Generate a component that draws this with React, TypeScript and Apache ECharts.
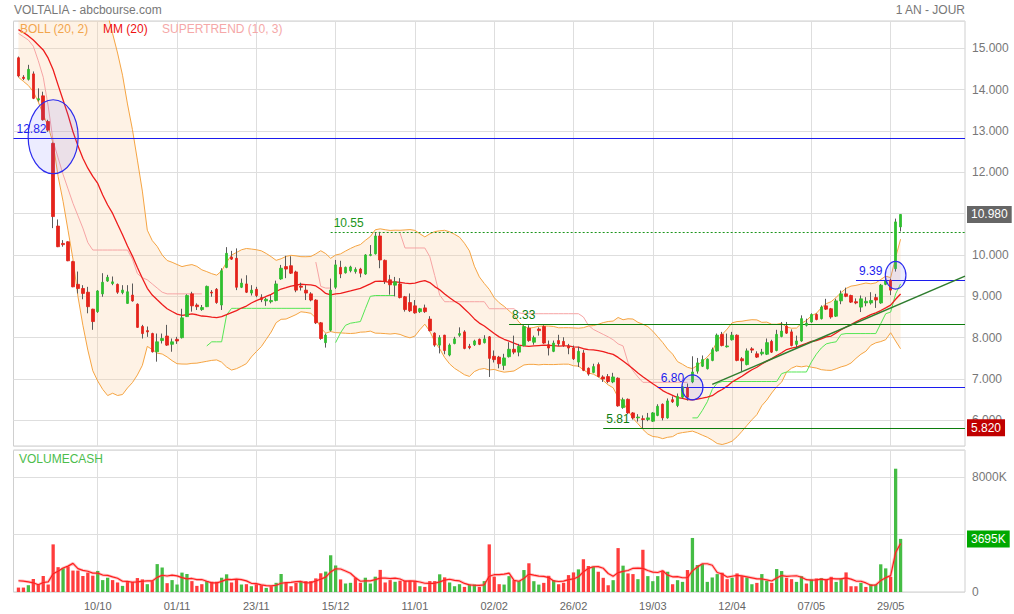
import React, { useEffect, useRef } from "react";
import * as echarts from "echarts";

// ---------- DATA ----------
const opens = [14.77,14.30,14.25,14.38,13.75,13.85,13.23,12.70,10.70,10.28,10.32,9.84,9.29,9.19,9.10,8.69,8.63,9.06,9.37,9.31,9.29,9.09,8.83,9.03,8.81,8.27,8.17,8.10,7.66,7.93,8.04,7.84,7.96,8.00,8.51,9.06,8.79,8.68,8.75,9.10,9.17,8.79,9.70,9.95,9.92,9.22,9.30,9.08,9.17,8.97,8.89,8.87,8.90,9.42,9.72,9.74,9.59,9.25,9.15,9.06,8.91,8.36,7.88,8.18,9.22,9.70,9.57,9.62,9.60,9.66,9.54,9.99,10.03,10.46,9.87,9.40,9.27,9.30,8.99,8.85,8.77,8.63,8.72,8.45,8.11,7.82,8.06,7.58,7.86,8.06,8.14,7.79,7.83,7.96,7.88,8.02,7.55,7.53,7.33,7.54,7.72,7.65,7.81,8.23,7.89,8.21,8.27,7.83,7.67,7.93,7.91,7.80,7.75,7.41,7.63,7.26,7.16,7.35,7.05,7.06,6.93,7.02,6.31,6.51,6.18,6.06,6.04,6.02,5.98,6.12,6.39,6.06,6.50,6.36,6.56,6.79,6.93,7.19,7.31,7.25,7.45,7.68,8.08,7.78,7.95,8.06,7.49,7.35,7.73,7.61,7.61,7.60,7.91,7.69,8.03,8.28,8.14,7.84,7.92,8.30,8.38,8.56,8.46,8.77,8.70,8.52,8.89,9.06,9.02,8.87,8.74,8.84,8.84,8.97,8.84,9.29,9.39,9.67,10.68];
const closes = [14.33,14.27,14.49,13.79,13.78,13.27,13.02,10.93,10.20,10.25,9.86,9.23,9.19,9.07,8.75,8.39,9.13,9.34,9.46,9.35,9.10,9.15,9.11,8.89,8.25,8.10,8.14,7.66,7.90,7.98,7.82,7.90,7.92,8.48,9.02,8.77,8.75,8.73,9.24,9.08,8.85,9.62,10.04,9.90,9.22,9.32,9.10,9.15,9.02,8.92,8.93,8.90,9.30,9.68,9.66,9.56,9.15,9.22,9.08,8.91,8.36,7.98,8.06,9.15,9.76,9.54,9.70,9.71,9.65,9.56,10.00,10.01,10.46,9.88,9.36,9.28,9.35,8.97,8.68,8.65,8.60,8.70,8.63,8.17,7.82,8.00,7.69,7.82,7.97,8.10,7.74,7.76,7.92,7.84,7.97,7.50,7.47,7.37,7.51,7.72,7.65,7.79,8.27,7.93,8.00,8.17,7.87,7.75,7.87,7.85,7.81,7.75,7.49,7.67,7.21,7.12,7.30,7.06,7.00,6.94,7.05,6.35,6.50,6.18,6.06,6.08,6.02,6.06,6.18,6.34,6.06,6.47,6.45,6.58,6.81,6.56,7.17,7.39,7.47,7.48,7.71,8.06,7.81,7.80,8.06,7.45,7.44,7.68,7.70,7.53,7.65,7.88,7.65,8.08,8.16,8.11,7.81,7.92,8.46,8.35,8.56,8.44,8.74,8.69,8.50,8.89,9.06,9.00,8.86,8.84,8.94,8.88,8.90,8.91,9.27,9.37,9.15,10.80,10.98];
const lows = [14.30,14.23,14.22,13.77,13.71,13.25,12.98,10.65,10.19,10.20,9.85,9.22,9.07,8.93,8.59,8.19,8.60,8.99,9.35,9.27,9.06,9.05,8.82,8.87,8.24,7.98,8.02,7.64,7.42,7.86,7.80,7.66,7.85,7.98,8.50,8.63,8.67,8.65,8.74,8.99,8.82,8.67,9.68,9.88,9.15,9.20,9.08,9.02,8.98,8.86,8.77,8.83,8.88,9.40,9.44,9.54,9.10,9.14,8.91,8.88,8.33,7.95,7.76,8.15,9.18,9.44,9.55,9.58,9.55,9.46,9.52,9.97,10.01,9.68,9.30,9.04,9.00,8.95,8.63,8.62,8.58,8.60,8.60,8.15,7.78,7.62,7.60,7.55,7.84,8.02,7.72,7.72,7.80,7.82,7.86,7.05,7.40,7.26,7.22,7.52,7.60,7.55,7.79,7.90,7.83,8.05,7.85,7.57,7.65,7.80,7.78,7.60,7.46,7.29,7.19,7.08,7.14,7.04,6.93,6.90,6.90,6.33,6.28,6.15,6.02,5.97,5.81,5.98,5.96,6.10,6.00,6.04,6.42,6.32,6.52,6.48,6.90,7.13,7.29,7.23,7.43,7.66,7.79,7.76,7.93,7.43,7.19,7.33,7.63,7.51,7.57,7.58,7.63,7.67,8.01,8.09,7.79,7.76,7.90,8.27,8.36,8.42,8.44,8.67,8.46,8.50,8.81,8.98,8.84,8.81,8.62,8.76,8.80,8.72,8.82,9.27,9.03,9.60,10.57];
const highs = [14.80,14.35,14.60,14.44,14.03,13.95,13.27,12.72,10.86,10.36,10.33,9.86,9.60,9.27,9.23,8.70,9.15,9.56,9.52,9.48,9.31,9.27,9.27,9.31,8.83,8.31,8.27,8.12,8.10,8.10,8.31,7.98,8.02,8.70,9.05,9.11,8.83,8.79,9.26,9.15,9.20,9.68,10.19,10.10,10.16,9.43,9.51,9.27,9.23,9.05,8.97,9.03,9.38,9.76,9.98,9.97,9.62,9.33,9.27,9.10,8.93,8.38,8.10,9.43,9.88,9.86,9.72,9.74,9.70,9.69,10.02,10.24,10.53,10.56,9.89,9.52,9.47,9.44,9.01,9.07,8.91,8.72,8.80,8.52,8.13,8.06,8.07,7.86,8.02,8.25,8.18,7.85,7.95,7.98,8.06,8.04,7.69,7.56,7.61,7.89,8.05,7.85,8.30,8.30,8.05,8.25,8.30,7.93,7.93,8.07,8.01,7.85,7.81,7.78,7.70,7.28,7.37,7.40,7.09,7.12,7.15,7.04,6.55,6.53,6.20,6.15,6.12,6.18,6.20,6.39,6.41,6.53,6.58,6.65,6.83,6.89,7.55,7.51,7.57,7.50,7.76,8.10,8.14,8.10,8.14,8.08,7.53,7.74,7.77,7.67,7.73,7.98,7.95,8.19,8.38,8.38,8.20,8.05,8.54,8.46,8.59,8.59,8.78,8.94,8.72,8.94,9.14,9.21,9.04,8.95,9.02,8.98,9.10,9.06,9.30,9.47,9.43,10.88,10.99];
// volume, in thousands
const volumesK = [308,308,473,900,521,1112,521,3314,1728,1657,1775,1491,1491,1112,1349,1136,1467,828,994,828,663,426,757,710,970,876,544,757,1941,1704,615,828,521,1349,1254,757,426,544,757,710,710,994,1231,663,900,521,544,402,544,473,284,402,639,1254,663,402,639,710,757,757,947,1302,1420,2556,1846,876,592,639,994,639,994,592,1065,1539,663,828,710,781,781,757,757,402,355,757,757,1231,1018,663,402,544,355,521,521,355,757,3314,1065,544,517,1105,823,752,1528,1998,752,517,635,1128,823,541,635,1175,1363,1575,2280,1810,1763,1410,987,470,823,3055,1833,1293,1246,893,2938,1105,752,1105,1481,1410,541,823,705,1528,3760,1880,1951,705,1011,1246,1340,893,987,1293,1105,1011,541,635,1246,776,635,1598,1457,987,893,705,1105,588,870,940,964,870,1058,705,940,1363,400,400,635,353,541,517,1927,1645,1058,8578,3695];
// indicator values at the start of the window (their history lies before the first visible day)
const maHead = [15.45,15.38,15.30,15.20,15.08,14.96,14.76,14.48,14.11,13.75,13.39,12.98,12.64,12.34,12.10,11.90,11.73,11.45,11.21];
const lowerHead = [14.30,14.20,14.10,13.95,13.70,13.40,13.10,12.70,11.90,11.30,10.60,9.90,9.00,8.30,7.70,7.20,6.95,6.75,6.60];
const volMaHead = [781,757,710,640];
// supertrend (10, 3): [first day index, values]
const stDownSegments: [number, number[]][] = [
  [0, [15.36,15.28,15.2,15.05,14.7,14.3,13.6,12.75,12.35,11.95,11.6,11.25,10.95,10.65,10.3,10.12,10.12,10.12,10.12,10.12,10.12,10.12,10.12,9.9,9.55,9.45,9.4,9.3,9.2,9.1,9.06,9.06,9.06,9.06,9.06,9.06,9.06,9.06]],
  [60, [9.83,9.24,9.2,9.2]],
  [77, [10.53,10.17,10.17,10.17,10.17,10.17,9.96,9.5,9.03,8.87,8.87,8.87,8.87,8.87,8.87,8.87,8.87,8.87,8.7,8.7,8.7,8.7,8.7,8.7,8.6,8.58,8.58,8.58,8.58,8.58,8.58,8.58,8.58,8.58,8.58,8.58,8.58,8.5,8.3,8.2,8.14,8.08,8.02,7.95,7.85,7.8,7.4,7.2,7.05,6.92,6.92,6.92,6.92,6.92,6.92,6.92,6.92,6.92,6.92]],
];
const stUpSegments: [number, number[]][] = [
  [38, [7.8,7.9,7.9,7.9,8.55,8.71,8.71,8.71,8.71,8.71,8.71,8.71,8.71,8.71,8.71,8.71,8.71,8.71,8.71,8.71,8.71,8.71]],
  [64, [7.88,8.12,8.3,8.35,8.37,8.39,8.7,9.0,9.02,9.02,9.02,9.02,9.02]],
  [136, [6.06,6.06,6.24,6.45,6.75,6.9,6.94,6.94,6.94,6.94,6.94,6.94,6.94,6.94,6.94,6.94,6.94,6.94,7.13,7.17,7.17,7.17,7.17,7.17,7.41,7.6,7.75,7.85,7.88,7.9,8.08,8.1,8.1,8.1,8.1,8.1,8.1,8.1,8.34,8.58,8.62,9.06,9.3]],
];
const tickLabels = ["10/10","01/11","23/11","15/12","11/01","02/02","26/02","19/03","12/04","07/05","29/05"];
const holidays = ["2023-12-25","2023-12-26","2024-01-01","2024-03-29","2024-04-01","2024-05-01"];
const firstCategoryDay = "2023-09-15";
const futureDays = 13;

// drawn levels: start day index (category), price
const levels = [
  { from: 0, value: 12.82, color: "#1c1cee", type: "solid", text: "12.82" },
  { from: 64, value: 10.55, color: "#1a941a", type: [2, 2], text: "10.55" },
  { from: 100, value: 8.33, color: "#0c7c0c", type: "solid", text: "8.33" },
  { from: 119, value: 5.81, color: "#0c7c0c", type: "solid", text: "5.81" },
  { from: 130, value: 6.80, color: "#1c1cee", type: "solid", text: "6.80" },
  { from: 170, value: 9.39, color: "#1c1cee", type: "solid", text: "9.39" },
];
const trendStart = { cat: 141, value: 6.87 };
const trendEnd = { value: 9.49 };
const circles = [
  { cat: 8, value: 12.86, rx: 25, ry: 37 },
  { cat: 137, value: 6.80, rx: 10.5, ry: 12.5 },
  { cat: 178, value: 9.51, rx: 10.3, ry: 13.8 },
];
const lastPrice = 10.98;
const lowTag = 5.82;
const lastVolumeK = 3695;

// ---------- helpers ----------
function buildDates(count: number): string[] {
  const hol = new Set(holidays);
  const out: string[] = [];
  let t = Date.parse(firstCategoryDay + "T00:00:00Z");
  while (out.length < count) {
    const d = new Date(t);
    const wd = d.getUTCDay();
    const iso = d.toISOString().slice(0, 10);
    if (wd !== 0 && wd !== 6 && !hol.has(iso)) {
      out.push(iso.slice(8, 10) + "/" + iso.slice(5, 7) + "/" + iso.slice(0, 4));
    }
    t += 86400000;
  }
  return out;
}

function segmentsToArray(segs: [number, number[]][], n: number): (number | null)[] {
  const arr: (number | null)[] = new Array(n).fill(null);
  segs.forEach(([start, vals]) => vals.forEach((v, k) => { arr[start + k] = v; }));
  return arr;
}

const FONT = "'Liberation Sans', Arial, sans-serif";

export default function App() {
  const ref = useRef<HTMLDivElement>(null);

  useEffect(() => {
    if (!ref.current) return;
    const chart = echarts.init(ref.current, undefined, { renderer: "svg" });

    const N = closes.length;
    const cats = buildDates(1 + N + futureDays);
    const lastCat = cats.length - 1;
    const labelSet = new Set(tickLabels);
    const showTick = (_i: number, v: string) => labelSet.has(String(v).slice(0, 5));
    const pad = (arr: (number | null)[]) => ["-", ...arr.map((v) => (v == null ? "-" : v))];

    // Bollinger (20, 2) and MM 20
    const ma: number[] = [], up: number[] = [], lo: number[] = [];
    for (let i = 0; i < N; i++) {
      if (i < maHead.length) {
        ma.push(maHead[i]); lo.push(lowerHead[i]); up.push(2 * maHead[i] - lowerHead[i]);
      } else {
        const w = closes.slice(i - 19, i + 1);
        const m = w.reduce((a, b) => a + b, 0) / 20;
        const sd = Math.sqrt(w.reduce((a, b) => a + (b - m) * (b - m), 0) / 20);
        ma.push(m); up.push(m + 2 * sd); lo.push(m - 2 * sd);
      }
    }
    const bandWidth = up.map((u, i) => u - lo[i]);

    const volMa: number[] = [];
    for (let i = 0; i < N; i++) {
      if (i < volMaHead.length) volMa.push(volMaHead[i]);
      else volMa.push(volumesK.slice(i - 4, i + 1).reduce((a, b) => a + b, 0) / 5);
    }

    const stDown = segmentsToArray(stDownSegments, N);
    const stUp = segmentsToArray(stUpSegments, N);

    const wickData: any[] = [["-", "-", "-", "-"]];
    const bodyData: any[] = [["-", "-", "-", "-"]];
    for (let i = 0; i < N; i++) {
      wickData.push([opens[i], closes[i], lows[i], highs[i]]);
      bodyData.push([opens[i], closes[i], Math.min(opens[i], closes[i]), Math.max(opens[i], closes[i])]);
    }
    const volData: any[] = ["-"];
    for (let i = 0; i < N; i++) {
      const upDay = i === 0 ? closes[i] >= opens[i] : closes[i] >= closes[i - 1];
      volData.push({ value: volumesK[i], itemStyle: { color: upDay ? "#45bd45" : "#ff3c3c" } });
    }

    const levelLines = levels.map((l) => [
      {
        coord: [l.from, l.value],
        lineStyle: { color: l.color, width: 1, type: l.type },
        label: { show: true, formatter: l.text, position: "insideStartTop", color: l.color, fontSize: 12, fontFamily: FONT, distance: 3 },
      },
      { coord: [lastCat, l.value] },
    ]);

    const tag = (value: number, text: string, bg: string) => ({
      yAxis: value,
      lineStyle: { color: "rgba(0,0,0,0)", width: 0 },
      label: {
        show: true, position: "end", formatter: text, backgroundColor: bg, color: "#ffffff",
        fontSize: 12, fontFamily: FONT, padding: [3, 4, 2, 4], distance: 2,
      },
    });

    const grayGrid = "#dedede";

    const option: any = {
      animation: false,
      backgroundColor: "#fff",
      textStyle: { fontFamily: FONT },
      grid: [
        { left: 13.5, right: 49, top: 21, height: 425, show: true, borderColor: "#cfcfcf", borderWidth: 1 },
        { left: 13.5, right: 49, top: 450, height: 142, show: true, borderColor: "#cfcfcf", borderWidth: 1 },
      ],
      xAxis: [
        {
          type: "category", gridIndex: 0, data: cats, boundaryGap: false,
          axisLine: { show: false }, axisTick: { show: false }, axisLabel: { show: false },
          splitLine: { show: true, interval: showTick, lineStyle: { color: grayGrid } },
        },
        {
          type: "category", gridIndex: 1, data: cats, boundaryGap: false,
          axisLine: { show: false }, axisTick: { show: false },
          axisLabel: { show: true, interval: showTick, formatter: (v: string) => v.slice(0, 5), color: "#666", fontSize: 11, margin: 8 },
          splitLine: { show: true, interval: showTick, lineStyle: { color: grayGrid } },
        },
      ],
      yAxis: [
        {
          type: "value", gridIndex: 0, position: "right", min: 5.38, max: 15.66, splitNumber: 10,
          axisLine: { show: false }, axisTick: { show: false },
          axisLabel: {
            color: "#777", fontSize: 12, margin: 7, padding: [0, 0, 5, 0],
            formatter: (v: number) => (Math.abs(v - Math.round(v)) < 1e-6 ? v.toFixed(3) : ""),
          },
          splitLine: { show: true, lineStyle: { color: grayGrid } },
        },
        {
          type: "value", gridIndex: 1, position: "right", min: 0, max: 9880, interval: 4000,
          axisLine: { show: false }, axisTick: { show: false },
          axisLabel: {
            color: "#777", fontSize: 12, margin: 7,
            formatter: (v: number) => (v === 0 ? "0" : v === 8000 ? "8000K" : ""),
          },
          splitLine: { show: true, lineStyle: { color: grayGrid } },
        },
      ],
      series: [
        {
          name: "bbLower", type: "line", data: pad(lo), stack: "bb", symbol: "none",
          lineStyle: { color: "#f5a442", width: 1 }, z: 1,
        },
        {
          name: "bbUpper", type: "line", data: pad(bandWidth), stack: "bb", symbol: "none",
          lineStyle: { color: "#f5a442", width: 1 }, areaStyle: { color: "rgba(250,210,165,0.42)" }, z: 1,
        },
        {
          name: "stDown", type: "line", data: pad(stDown), symbol: "none",
          lineStyle: { color: "#f6a4a4", width: 1 }, z: 2,
        },
        {
          name: "stUp", type: "line", data: pad(stUp), symbol: "none",
          lineStyle: { color: "#55e655", width: 1 }, z: 2,
        },
        {
          name: "MM20", type: "line", data: pad(ma), symbol: "none",
          lineStyle: { color: "#ee1c1c", width: 1.3 }, z: 3,
          markLine: {
            silent: true, symbol: ["none", "none"], animation: false,
            data: [
              ...levelLines,
              [
                { coord: [trendStart.cat, trendStart.value], lineStyle: { color: "#2f7d2f", width: 1.5, type: "solid" }, label: { show: false } },
                { coord: [lastCat, trendEnd.value] },
              ],
              tag(lastPrice, lastPrice.toFixed(3), "#666666"),
              tag(lowTag, lowTag.toFixed(3), "#c00000"),
            ],
          },
        },
        {
          name: "wick", type: "candlestick", data: wickData, barWidth: 1, z: 4,
          itemStyle: { color: "transparent", color0: "transparent", borderColor: "#5a5a5a", borderColor0: "#5a5a5a", borderWidth: 1 },
        },
        {
          name: "body", type: "candlestick", data: bodyData, barWidth: 3, z: 5,
          itemStyle: { color: "#2fbf2f", color0: "#e4231b", borderColor: "#2fbf2f", borderColor0: "#e4231b", borderWidth: 0.8 },
        },
        {
          name: "volume", type: "bar", xAxisIndex: 1, yAxisIndex: 1, data: volData, barWidth: 3.3,
          markLine: {
            silent: true, symbol: ["none", "none"], animation: false,
            data: [
              {
                yAxis: lastVolumeK, lineStyle: { color: "rgba(0,0,0,0)", width: 0 },
                label: { show: true, position: "end", formatter: lastVolumeK + "K", backgroundColor: "#00a800", color: "#ffffff", fontSize: 12, fontFamily: FONT, padding: [3, 4, 2, 4], distance: 2 },
              },
            ],
          },
        },
        {
          name: "volMaHalo", type: "line", xAxisIndex: 1, yAxisIndex: 1, data: pad(volMa), symbol: "none",
          lineStyle: { color: "rgba(255,90,90,0.35)", width: 3 },
        },
        {
          name: "volMa", type: "line", xAxisIndex: 1, yAxisIndex: 1, data: pad(volMa), symbol: "none",
          lineStyle: { color: "#ff1e1e", width: 1.2 },
        },
      ],
    };

    chart.setOption(option);

    const texts: any[] = [
      { type: "text", x: 14, y: 10, style: { text: "VOLTALIA - abcbourse.com", fill: "#777", fontSize: 12, fontFamily: FONT, verticalAlign: "middle" } },
      { type: "text", x: 965, y: 10, style: { text: "1 AN - JOUR", fill: "#777", fontSize: 12, fontFamily: FONT, align: "right", verticalAlign: "middle" } },
      { type: "text", x: 20, y: 29, z: 50, style: { text: "BOLL (20, 2)", fill: "#f2a54c", fontSize: 12, fontFamily: FONT, verticalAlign: "middle" } },
      { type: "text", x: 103, y: 29, z: 50, style: { text: "MM (20)", fill: "#ee1111", fontSize: 12, fontFamily: FONT, verticalAlign: "middle" } },
      { type: "text", x: 162, y: 29, z: 50, style: { text: "SUPERTREND (10, 3)", fill: "#f5a8a8", fontSize: 12, fontFamily: FONT, verticalAlign: "middle" } },
      { type: "text", x: 19, y: 459, z: 50, style: { text: "VOLUMECASH", fill: "#4cbd4c", fontSize: 12, fontFamily: FONT, verticalAlign: "middle" } },
    ];
    const ellipses = circles.map((c) => {
      const p = chart.convertToPixel({ xAxisIndex: 0, yAxisIndex: 0 }, [c.cat, c.value]) as number[];
      return {
        type: "ellipse", z: 100,
        shape: { cx: p[0], cy: p[1], rx: c.rx, ry: c.ry },
        style: { fill: "rgba(95,95,255,0.12)", stroke: "#2b2bee", lineWidth: 1.2 },
      };
    });
    chart.setOption({ graphic: [...texts, ...ellipses] });

    return () => chart.dispose();
  }, []);

  return (
    <div
      ref={ref}
      style={{ position: "fixed", left: 0, top: 0, width: 1014, height: 614, background: "#fff" }}
    />
  );
}
